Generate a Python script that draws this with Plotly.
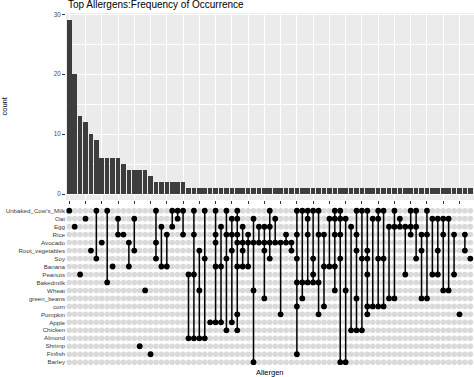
import plotly.graph_objects as go

# ---------------- data ----------------
allergens = ["Unbaked_Cow's_Milk", "Oat", "Egg", "Rice", "Avocado", "Root_vegetables",
             "Soy", "Banana", "Peanuts", "Bakedmilk", "Wheat", "green_beans", "corn",
             "Pumpkin", "Apple", "Chicken", "Almond", "Shrimp", "Finfish", "Barley"]

combos = [
    "Unbaked_Cow's_Milk", "Egg", "Peanuts", "Oat", "Root_vegetables",
    "Unbaked_Cow's_Milk&Soy", "Avocado", "Unbaked_Cow's_Milk&Bakedmilk", "Banana", "Oat&Rice",
    "Rice", "Avocado&Banana", "Oat&Root_vegetables", "Shrimp", "Wheat",
    "Finfish", "Unbaked_Cow's_Milk&Avocado&Soy", "Egg&Banana", "Rice&Banana", "Unbaked_Cow's_Milk&Egg",
    "Unbaked_Cow's_Milk&Oat", "Unbaked_Cow's_Milk&Rice", "Peanuts&Almond",
    "Unbaked_Cow's_Milk&Rice&Peanuts&Almond", "Root_vegetables&Wheat&Almond",
    "Unbaked_Cow's_Milk&Soy&Almond", "Apple", "Unbaked_Cow's_Milk&Rice&Avocado&Banana&Apple",
    "Egg&Banana&Apple", "Unbaked_Cow's_Milk&Rice&Soy&Chicken",
    "Oat&Rice&Root_vegetables&Apple",
    "Unbaked_Cow's_Milk&Oat&Rice&Avocado&Banana&Pumpkin&Chicken",
    "Egg&Avocado&Root_vegetables&Banana", "Rice&Avocado&Banana", "Oat&Avocado&Wheat&Barley",
    "Egg&Avocado", "Egg&Avocado&Root_vegetables&green_beans", "Unbaked_Cow's_Milk&Egg&Avocado&Soy",
    "Oat&Avocado", "Avocado&Pumpkin", "Rice&Avocado", "Avocado&Root_vegetables",
    "Unbaked_Cow's_Milk&Rice&Soy&Bakedmilk&corn&Finfish",
    "Unbaked_Cow's_Milk&Bakedmilk&green_beans", "Unbaked_Cow's_Milk&Oat&Rice&Bakedmilk",
    "Unbaked_Cow's_Milk&Soy&Peanuts&Bakedmilk", "Unbaked_Cow's_Milk&Rice&Bakedmilk&Pumpkin",
    "Rice&Banana&corn", "Oat&Banana", "Unbaked_Cow's_Milk&Oat&Rice&Banana&Wheat",
    "Unbaked_Cow's_Milk&Oat&Rice&Soy&Barley", "Oat&Wheat&Barley", "Egg&Chicken",
    "Unbaked_Cow's_Milk&Rice&Root_vegetables&green_beans&Chicken",
    "Unbaked_Cow's_Milk&Soy&Chicken",
    "Unbaked_Cow's_Milk&Root_vegetables&Soy&Peanuts&corn&Pumpkin",
    "Oat&corn", "Unbaked_Cow's_Milk&Oat&Soy&corn", "Unbaked_Cow's_Milk&Soy&corn",
    "Egg&green_beans", "Unbaked_Cow's_Milk&Egg&green_beans", "Oat&Egg", "Egg&Peanuts",
    "Unbaked_Cow's_Milk&Egg&Rice", "Unbaked_Cow's_Milk&Egg&Soy",
    "Rice&Root_vegetables&green_beans", "Unbaked_Cow's_Milk&Rice&green_beans",
    "Oat&Peanuts", "Oat&Root_vegetables&Peanuts", "Oat&Rice&Wheat", "Oat&Wheat",
    "Rice&Peanuts", "Pumpkin", "Rice&Root_vegetables", "Soy",
]

counts = [29, 20, 13, 12, 10, 9, 6, 6, 6, 6,
          5, 4, 4, 4, 4, 3, 2, 2, 2, 2,
          2, 2, 1, 1, 1, 1, 1, 1, 1, 1,
          1, 1, 1, 1, 1, 1, 1, 1, 1, 1,
          1, 1, 1, 1, 1, 1, 1, 1, 1, 1,
          1, 1, 1, 1, 1, 1, 1, 1, 1, 1,
          1, 1, 1, 1, 1, 1, 1, 1, 1, 1,
          1, 1, 1, 1, 1]

yticks = [0, 10, 20, 30]
yminor = [5, 15, 25]

# ---------------- figure ----------------
FONT = "Liberation Sans, Arial, Helvetica, sans-serif"
fig = go.Figure()

fig.add_trace(go.Bar(x=combos, y=counts, width=0.85,
                     marker=dict(color="#3D3D3D", line=dict(width=0)),
                     xaxis="x", yaxis="y", showlegend=False, hoverinfo="y"))

# matrix: grey background dots
gx, gy = [], []
for c in combos:
    for a in allergens:
        gx.append(c)
        gy.append(a)
fig.add_trace(go.Scatter(x=gx, y=gy, mode="markers",
                         marker=dict(size=5.6, color="#DADADA", line=dict(width=0)),
                         xaxis="x2", yaxis="y2", showlegend=False, hoverinfo="skip"))

# connecting lines
lx, ly = [], []
for c in combos:
    members = c.split("&")
    idx = sorted(allergens.index(m) for m in members)
    if len(idx) > 1:
        lx += [c, c, None]
        ly += [allergens[idx[0]], allergens[idx[-1]], None]
fig.add_trace(go.Scatter(x=lx, y=ly, mode="lines", line=dict(color="black", width=1.5),
                         xaxis="x2", yaxis="y2", showlegend=False, hoverinfo="skip",
                         connectgaps=False))

# filled dots
bx, by = [], []
for c in combos:
    for m in c.split("&"):
        bx.append(c)
        by.append(m)
fig.add_trace(go.Scatter(x=bx, y=by, mode="markers",
                         marker=dict(size=5.8, color="black", line=dict(width=0)),
                         xaxis="x2", yaxis="y2", showlegend=False, hoverinfo="y"))

W, H = 474, 377
mt, mb, ml, mr = 13, 10, 66, 0
ph = H - mt - mb
bars_bottom_px = 200
mat_top_px = 205.9
bars_dom = [(H - mb - bars_bottom_px) / ph, 1]
mat_dom = [0, (H - mb - mat_top_px) / ph]

fig.update_layout(
    template="none",
    width=W, height=H,
    margin=dict(l=ml, r=mr, t=mt, b=mb, pad=0),
    paper_bgcolor="white", plot_bgcolor="white",
    font=dict(family=FONT, color="#4D4D4D"),
    bargap=0,
    xaxis=dict(type="category", categoryorder="array", categoryarray=combos,
               range=[-0.6, 74.68], domain=[0, 1], anchor="y", automargin=False,
               showgrid=True, gridcolor="white", gridwidth=1,
               ticks="outside", ticklen=3, tickwidth=0.8, tickcolor="#333333",
               showticklabels=False, showline=False, zeroline=False, fixedrange=True),
    yaxis=dict(domain=bars_dom, anchor="x", range=[-1.0, 30.22], automargin=False,
               tickmode="array", tickvals=yticks, ticktext=[str(v) for v in yticks],
               showgrid=True, gridcolor="white", gridwidth=1.1,
               minor=dict(tickmode="array", tickvals=yminor, showgrid=True,
                          gridcolor="white", gridwidth=0.5, ticks=""),
               ticks="outside", ticklen=3, tickwidth=0.8, tickcolor="#333333",
               tickfont=dict(size=6.3, color="#4D4D4D", family=FONT),
               showline=False, zeroline=False),
    xaxis2=dict(type="category", categoryorder="array", categoryarray=combos,
                matches="x", domain=[0, 1], anchor="y2", automargin=False,
                showgrid=False, showticklabels=False, ticks="", showline=False, zeroline=False),
    yaxis2=dict(type="category", categoryorder="array", categoryarray=allergens,
                tickmode="array", tickvals=allergens, ticktext=allergens,
                domain=mat_dom, anchor="x2", range=[19.6, -0.6], automargin=False,
                showgrid=False, ticks="", zeroline=False, showline=False,
                tickfont=dict(size=6.2, color="#3A3A3A", family=FONT)),
    shapes=[dict(type="rect", xref="x domain", yref="y domain", x0=0, x1=1, y0=0, y1=1,
                 fillcolor="#EBEBEB", line=dict(width=0), layer="below")],
    annotations=[
        dict(text="Top Allergens:Frequency of Occurrence", xref="paper", yref="paper",
             x=0, y=1 + (mt - 5.0) / ph, xanchor="left", yanchor="middle", showarrow=False,
             font=dict(size=10, color="black", family=FONT)),
        dict(text="count", xref="paper", yref="paper", textangle=-90,
             x=(4.5 - ml) / (W - ml - mr), y=(H - mb - 106) / ph,
             xanchor="center", yanchor="middle", showarrow=False,
             font=dict(size=7.5, color="black", family=FONT)),
        dict(text="Allergen", xref="paper", yref="paper",
             x=0.5, y=-(372 - (H - mb)) / ph, xanchor="center", yanchor="middle",
             showarrow=False, font=dict(size=7.5, color="black", family=FONT)),
    ],
)

fig.write_html("out.html", config={"displayModeBar": False},
               post_script="document.body.style.margin='0px';document.body.style.padding='0px';")
